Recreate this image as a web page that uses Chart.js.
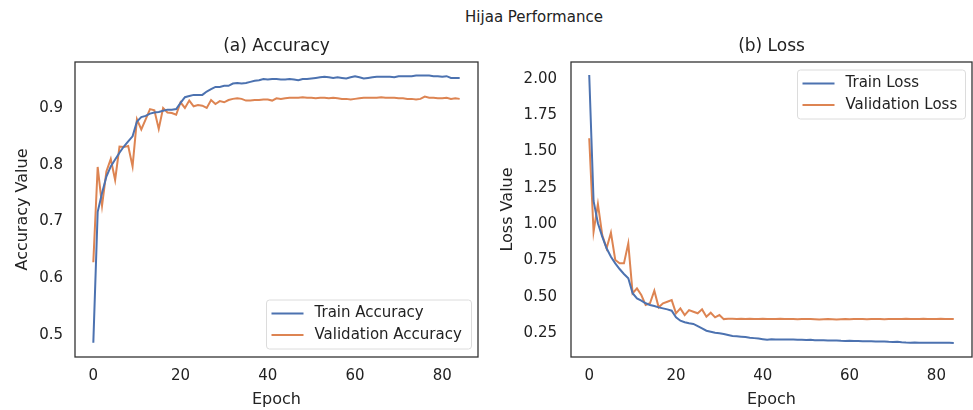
<!DOCTYPE html>
<html>
<head>
<meta charset="utf-8">
<script src="https://cdn.jsdelivr.net/npm/chart.js@4.4.0/dist/chart.umd.min.js"></script>
<style>
  body { margin: 0; background: #fff; }
  #wrap { position: relative; width: 973px; height: 410px; font-family: "DejaVu Sans", sans-serif; }
  #suptitle { position: absolute; left: 0; width: 1068px; top: 8px; text-align: center; font-size: 15px; color: #222; }
  .box { position: absolute; top: 0; height: 410px; }
</style>
</head>
<body>
<div id="wrap">
  <div id="suptitle">Hijaa Performance</div>
  <div class="box" style="left:0;width:490px"><canvas id="acc-chart"></canvas></div>
  <div class="box" style="left:490px;width:483px"><canvas id="loss-chart"></canvas></div>
</div>
<script>
var epochs = [];
for (var i = 0; i < 85; i++) epochs.push(i);

var trainAcc = [0.486,0.717,0.750,0.779,0.797,0.809,0.821,0.832,0.841,0.850,
  0.876,0.884,0.886,0.890,0.892,0.893,0.895,0.897,0.897,0.898,
  0.909,0.919,0.921,0.923,0.923,0.923,0.929,0.933,0.937,0.937,
  0.939,0.939,0.943,0.944,0.943,0.944,0.946,0.948,0.949,0.951,
  0.950,0.951,0.951,0.950,0.950,0.951,0.950,0.949,0.951,0.951,
  0.952,0.953,0.954,0.955,0.954,0.953,0.954,0.953,0.952,0.954,
  0.956,0.954,0.952,0.953,0.954,0.955,0.955,0.955,0.955,0.954,
  0.956,0.956,0.956,0.956,0.957,0.957,0.957,0.957,0.956,0.956,
  0.955,0.956,0.953,0.953,0.953];
var valAcc = [0.628,0.796,0.728,0.788,0.810,0.773,0.832,0.831,0.833,0.797,
  0.880,0.862,0.880,0.898,0.896,0.863,0.900,0.892,0.891,0.888,
  0.910,0.900,0.913,0.903,0.905,0.904,0.900,0.914,0.907,0.912,
  0.910,0.914,0.916,0.917,0.916,0.913,0.913,0.914,0.914,0.915,
  0.915,0.913,0.917,0.916,0.917,0.918,0.918,0.918,0.919,0.918,
  0.918,0.917,0.918,0.918,0.917,0.918,0.917,0.916,0.916,0.915,
  0.916,0.917,0.918,0.918,0.918,0.918,0.919,0.918,0.918,0.918,
  0.917,0.917,0.916,0.916,0.915,0.916,0.920,0.918,0.918,0.917,
  0.917,0.918,0.916,0.917,0.916];
var trainLoss = [2.028,1.160,1.006,0.914,0.834,0.776,0.730,0.691,0.657,0.627,
  0.524,0.489,0.473,0.455,0.443,0.436,0.427,0.420,0.413,0.404,
  0.358,0.335,0.324,0.317,0.313,0.298,0.282,0.266,0.259,0.252,
  0.248,0.243,0.236,0.229,0.228,0.225,0.222,0.218,0.215,0.212,
  0.208,0.204,0.208,0.206,0.206,0.205,0.206,0.205,0.204,0.204,
  0.202,0.203,0.201,0.200,0.200,0.199,0.198,0.199,0.197,0.196,
  0.197,0.195,0.196,0.194,0.193,0.194,0.192,0.191,0.192,0.190,
  0.189,0.190,0.187,0.185,0.184,0.185,0.184,0.183,0.184,0.183,
  0.184,0.183,0.184,0.183,0.182];
var valLoss = [1.592,0.948,1.139,0.925,0.834,0.941,0.753,0.730,0.730,0.868,
  0.524,0.558,0.512,0.443,0.455,0.542,0.427,0.455,0.466,0.477,
  0.386,0.420,0.374,0.408,0.397,0.386,0.413,0.362,0.390,0.358,
  0.374,0.346,0.349,0.348,0.347,0.349,0.346,0.348,0.347,0.346,
  0.348,0.347,0.346,0.347,0.348,0.346,0.347,0.346,0.345,0.346,
  0.347,0.346,0.345,0.344,0.345,0.346,0.345,0.344,0.345,0.346,
  0.345,0.346,0.347,0.346,0.345,0.346,0.347,0.346,0.345,0.346,
  0.347,0.346,0.347,0.348,0.347,0.346,0.347,0.348,0.347,0.346,
  0.347,0.348,0.346,0.347,0.346];

var accTicks = [0.5, 0.6, 0.7, 0.8, 0.9];
var lossTicks = [0.25, 0.5, 0.75, 1.0, 1.25, 1.5, 1.75, 2.0];
var epochTicks = [0, 20, 40, 60, 80];

var blue = '#4c72b0';
var orange = '#dd8452';
var font = '"DejaVu Sans", sans-serif';

// frame, subplot title and legend inside the axes
var panelPlugin = {
    id: 'panel',
    afterDraw: function(chart, args, opts) {
        var ctx = chart.ctx, a = chart.chartArea;
        ctx.save();
        ctx.strokeStyle = '#333';
        ctx.lineWidth = 1.3;
        ctx.strokeRect(a.left, a.top, a.right - a.left, a.bottom - a.top);

        ctx.fillStyle = '#222';
        ctx.font = '17px ' + font;
        ctx.textAlign = 'center';
        ctx.textBaseline = 'middle';
        ctx.fillText(opts.title, (a.left + a.right) / 2, 47);

        var lg = opts.legend;
        ctx.beginPath();
        ctx.roundRect(lg.x, lg.y, lg.w, lg.h, 3);
        ctx.fillStyle = 'rgba(255,255,255,0.8)';
        ctx.fill();
        ctx.strokeStyle = '#dcdcdc';
        ctx.lineWidth = 1;
        ctx.stroke();
        ctx.font = '15px ' + font;
        ctx.textAlign = 'left';
        chart.data.datasets.forEach(function(ds, k) {
            var yy = lg.y + 13.5 + k * 21.5;
            ctx.strokeStyle = ds.borderColor;
            ctx.lineWidth = 2;
            ctx.beginPath();
            ctx.moveTo(lg.x + 5, yy);
            ctx.lineTo(lg.x + 37, yy);
            ctx.stroke();
            ctx.fillStyle = '#222';
            ctx.fillText(ds.label, lg.x + 48, yy);
        });
        ctx.restore();
    }
};

function makeChart(id, cfg) {
    return new Chart(document.getElementById(id), {
        type: 'line',
        data: {
            labels: epochs,
            datasets: [
                { label: cfg.names[0], data: cfg.train, borderColor: blue, borderWidth: 2, pointRadius: 0, tension: 0 },
                { label: cfg.names[1], data: cfg.val, borderColor: orange, borderWidth: 2, pointRadius: 0, tension: 0 }
            ]
        },
        options: {
            responsive: true,
            maintainAspectRatio: false,
            animation: false,
            layout: { padding: { top: 62, right: cfg.padRight, left: 0, bottom: 0 } },
            plugins: {
                legend: { display: false },
                tooltip: { enabled: false },
                panel: { title: cfg.title, legend: cfg.legend }
            },
            scales: {
                x: {
                    type: 'linear',
                    min: -4.2, max: 88.2,
                    grid: { display: false, drawTicks: false },
                    border: { display: false },
                    afterBuildTicks: function(s) { s.ticks = epochTicks.map(function(v) { return { value: v }; }); },
                    afterFit: function(s) { s.height = 53; },
                    ticks: { padding: 10, color: '#222', font: { family: font, size: 15 }, maxRotation: 0 },
                    title: { display: true, text: 'Epoch', color: '#222', padding: 1, font: { family: font, size: 16 } }
                },
                y: {
                    min: cfg.yMin, max: cfg.yMax,
                    grid: { display: false, drawTicks: false },
                    border: { display: false },
                    afterBuildTicks: function(s) { s.ticks = cfg.yTicks.map(function(v) { return { value: v }; }); },
                    afterFit: function(s) { s.width = cfg.yWidth; },
                    ticks: {
                        padding: cfg.tickPad, color: '#222', font: { family: font, size: 15 },
                        callback: function(v) { return v.toFixed(cfg.digits); }
                    },
                    title: { display: true, text: cfg.yLabel, color: '#222', padding: cfg.titlePad, font: { family: font, size: 16 } }
                }
            }
        },
        plugins: [panelPlugin]
    });
}

makeChart('acc-chart', {
    names: ['Train Accuracy', 'Validation Accuracy'],
    train: trainAcc, val: valAcc,
    title: '(a) Accuracy', yLabel: 'Accuracy Value',
    yMin: 0.461, yMax: 0.981, yTicks: accTicks, digits: 1,
    yWidth: 75, tickPad: 12, titlePad: 13, padRight: 12,
    legend: { x: 266.5, y: 300, w: 205, h: 49 }
});

makeChart('loss-chart', {
    names: ['Train Loss', 'Validation Loss'],
    train: trainLoss, val: valLoss,
    title: '(b) Loss', yLabel: 'Loss Value',
    yMin: 0.085, yMax: 2.117, yTicks: lossTicks, digits: 2,
    yWidth: 81, tickPad: 14, titlePad: 8, padRight: 1,
    legend: { x: 307.5, y: 70, w: 168, h: 49 }
});
</script>
</body>
</html>
